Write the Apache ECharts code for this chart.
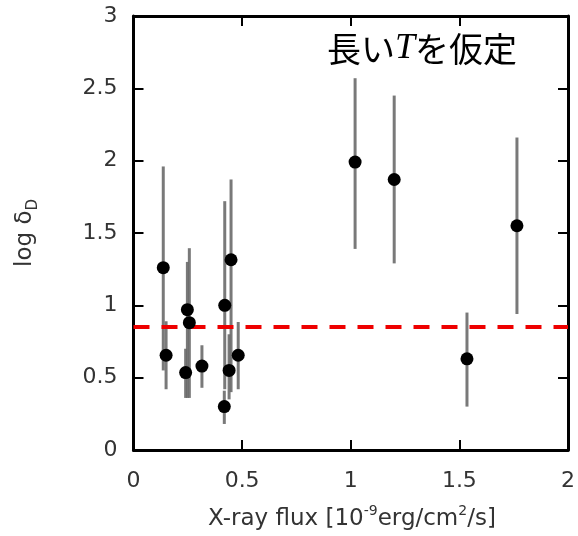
<!DOCTYPE html>
<html>
<head>
<meta charset="utf-8">
<script src="https://cdn.jsdelivr.net/npm/echarts@6/dist/echarts.min.js"></script>
<style>
  html, body { margin: 0; padding: 0; background: #fff; }
  #chart { width: 578px; height: 536px; }
</style>
</head>
<body>
<div id="chart"></div>
<script>
// X-ray flux (10^-9 erg/cm^2/s) and Doppler factor per source
const xFlux    = [0.137, 0.150, 0.248, 0.257, 0.240, 0.315, 0.420, 0.449, 0.440, 0.418, 0.482, 1.020, 1.200, 1.535, 1.765];
const logDelta = [1.26, 0.655, 0.97, 0.88, 0.535, 0.58, 1.00, 1.315, 0.55, 0.30, 0.655, 1.99, 1.87, 0.63, 1.55];
const errLow   = [0.55, 0.42, 0.36, 0.36, 0.36, 0.43, 0.42, 0.40, 0.35, 0.18, 0.42, 1.39, 1.29, 0.30, 0.94];
const errHigh  = [1.96, 0.89, 1.30, 1.395, 0.70, 0.724, 1.72, 1.87, 0.80, 0.41, 0.885, 2.57, 2.45, 0.95, 2.16];

// reference level drawn as dashed line
const thresholdLog = 0.85;

// axis tick labels
const xTicks = ['0', '0.5', '1', '1.5', '2'];
const yTicks = ['0', '0.5', '1', '1.5', '2', '2.5', '3'];

const points = xFlux.map((x, i) => [x, logDelta[i]]);
const bars = xFlux.map((x, i) => [x, errLow[i], errHigh[i]]);

const labelFont = 'DejaVu Sans';
const tickStyle = { show: true, inside: true, length: 10, lineStyle: { color: '#000', width: 2 } };
const lineStyle = { show: true, onZero: false, lineStyle: { color: '#000', width: 3 } };

const chart = echarts.init(document.getElementById('chart'));
chart.setOption({
  animation: false,
  backgroundColor: '#fff',
  grid: { left: 133.5, right: 10, top: 16, bottom: 86 },
  xAxis: [{
    type: 'value', min: 0, max: 2, interval: 0.5,
    axisLine: lineStyle, axisTick: tickStyle, splitLine: { show: false },
    axisLabel: { fontFamily: labelFont, fontSize: 22, color: '#333', margin: 20,
                 formatter: (v) => xTicks[Math.round(v / 0.5)] }
  }, {
    type: 'value', position: 'top', min: 0, max: 2, interval: 0.5,
    axisLine: lineStyle, axisTick: tickStyle, axisLabel: { show: false }, splitLine: { show: false }
  }],
  yAxis: [{
    type: 'value', min: 0, max: 3, interval: 0.5,
    axisLine: lineStyle, axisTick: tickStyle, splitLine: { show: false },
    axisLabel: { fontFamily: labelFont, fontSize: 22, color: '#333', margin: 16,
                 formatter: (v) => yTicks[Math.round(v / 0.5)] },
    name: 'log δ{sub|D}',
    nameLocation: 'middle', nameGap: 108, nameRotate: 90,
    nameTextStyle: {
      fontFamily: labelFont, fontSize: 23, color: '#333', lineHeight: 30, verticalAlign: 'middle',
      rich: { sub: { fontFamily: labelFont, fontSize: 15, color: '#333', lineHeight: 18, verticalAlign: 'bottom' } }
    }
  }, {
    type: 'value', position: 'right', min: 0, max: 3, interval: 0.5,
    axisLine: lineStyle, axisTick: tickStyle, axisLabel: { show: false }, splitLine: { show: false }
  }],
  graphic: [{
    type: 'text', left: 327, top: 31, z: 10,
    style: {
      text: '長い{t|T}を仮定',
      fontFamily: 'Noto Sans CJK JP', fontSize: 34, fill: '#000',
      rich: { t: { fontFamily: 'Liberation Serif', fontStyle: 'italic', fontSize: 36, fill: '#000' } }
    }
  }, {
    // x-axis title with superscripts
    type: 'text', x: 352, y: 519, z: 10,
    style: {
      text: 'X-ray flux [10{sup|-9}erg/cm{sup|2}/s]',
      fontFamily: labelFont, fontSize: 23, fill: '#333',
      align: 'center', verticalAlign: 'middle', lineHeight: 30,
      rich: { sup: { fontFamily: labelFont, fontSize: 14, fill: '#333', lineHeight: 30, verticalAlign: 'top' } }
    }
  }],
  series: [{
    type: 'custom',
    name: 'error',
    data: bars,
    z: 2,
    renderItem: (params, api) => {
      const lo = api.coord([api.value(0), api.value(1)]);
      const hi = api.coord([api.value(0), api.value(2)]);
      return {
        type: 'line',
        shape: { x1: lo[0], y1: lo[1], x2: hi[0], y2: hi[1] },
        style: { stroke: '#6a6a6a', lineWidth: 3, opacity: 0.9 }
      };
    }
  }, {
    type: 'line',
    name: 'threshold',
    data: [[0, thresholdLog], [2, thresholdLog]],
    symbol: 'none',
    z: 3,
    lineStyle: { color: '#ee0000', width: 4, type: [16, 12] }
  }, {
    type: 'scatter',
    name: 'sources',
    data: points,
    symbol: 'circle',
    symbolSize: 13,
    z: 4,
    itemStyle: { color: '#000', opacity: 1 }
  }]
});
</script>
</body>
</html>
